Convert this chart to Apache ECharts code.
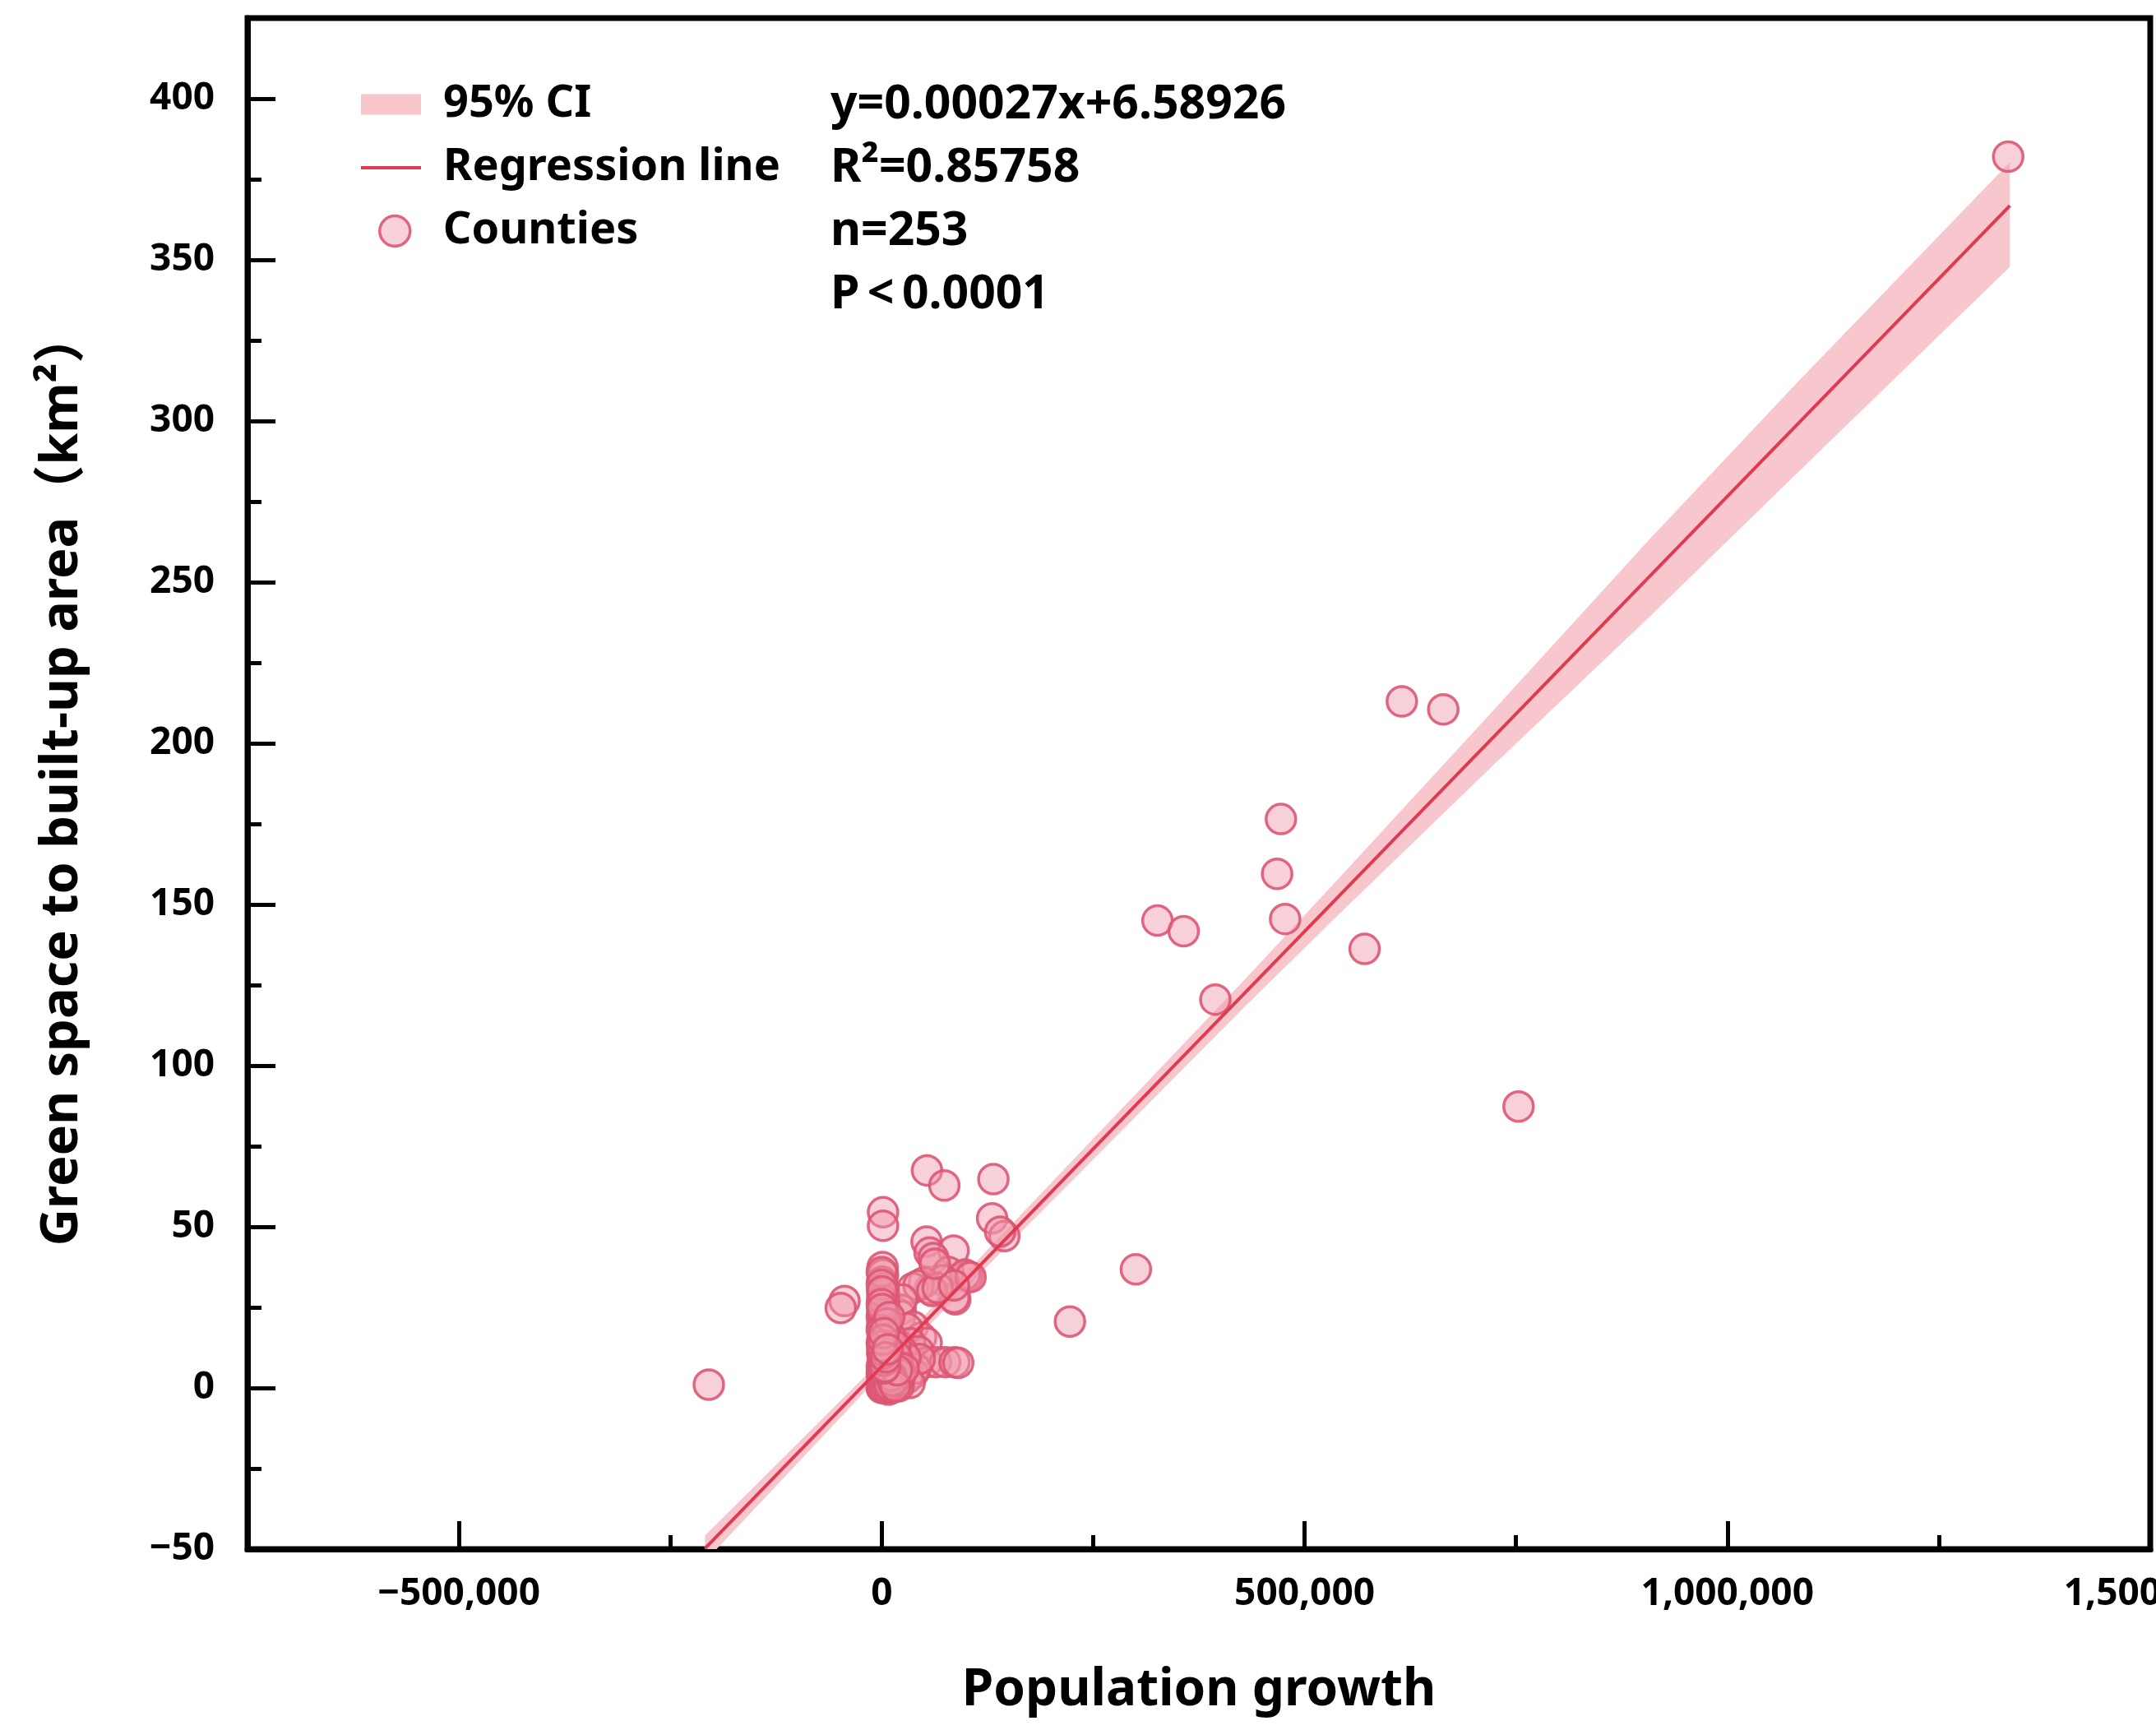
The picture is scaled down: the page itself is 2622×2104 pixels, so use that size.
<!DOCTYPE html>
<html>
<head>
<meta charset="utf-8">
<script src="https://cdn.jsdelivr.net/npm/echarts@6/dist/echarts.min.js"></script>
<style>
  html, body { margin: 0; padding: 0; background: #fff; }
  #chart { width: 2622px; height: 2104px; }
</style>
</head>
<body>
<div id="chart"></div>
<script>
// ---------------- data ----------------
const xTitle = 'Population growth';
const yTitle = 'Green space to built-up area\uFF08km\u00B2\uFF09';

const xMajorTicks = [-500000, 0, 500000, 1000000, 1500000];
const xMinorTicks = [-250000, 250000, 750000, 1250000];
const yMajorTicks = [-50, 0, 50, 100, 150, 200, 250, 300, 350, 400];
const yMinorTicks = [-25, 25, 75, 125, 175, 225, 275, 325, 375];

const legendNames = ['95% CI', 'Regression line', 'Counties'];
const statsLines = ['y=0.00027x+6.58926', 'R\u00B2=0.85758', 'n=253', 'P\u2009<\u20090.0001'];

// regression line end points (population growth, km²)
const regX = [-209000, 1334000];
const regY = [-49.8, 366.8];

// 95% confidence band read at several x positions
const ciX     = [-209000, 0,   100000, 250000, 430000, 540000, 725000, 908000, 1080000, 1334000];
const ciUpper = [-45.8,   8.8, 36.0,   77.3,   126.9,  158.0,  210.7,  263.3,  311.2,   380.3];
const ciLower = [-53.8,   4.4, 31.2,   70.9,   118.5,  146.8,  193.7,  239.3,  283.2,   347.8];

// counties: [population growth, green space to built-up area]
const outlierCounties = [
  [1332000, 382.0], [615000, 213.0], [664000, 210.5], [472000, 176.5], [467500, 159.5],
  [477000, 145.5], [326000, 145.0], [357000, 141.7], [571000, 136.2], [394500, 120.5],
  [753000, 87.3], [300500, 36.8], [222500, 20.6], [-204500, 1.0]
];
const midCounties = [
  [53500, 67.5], [74000, 62.8], [132000, 64.8], [130500, 52.6], [145000, 47.1],
  [1500, 54.5], [1500, 50.3], [53000, 45.4], [56500, 42.0], [85000, 42.6],
  [61000, 40.3], [101500, 34.6], [79000, 36.0], [98500, 35.2], [-44000, 27.0],
  [-48500, 24.8], [87000, 27.5], [85500, 28.0], [73000, 33.4], [56800, 30.8],
  [49900, 32.7], [36900, 31.0], [43400, 31.8], [59600, 30.1], [66100, 31.0],
  [22300, 24.3], [22300, 22.4], [24000, 27.5], [36900, 19.1], [46600, 15.6],
  [53100, 14.0], [30000, 18.5], [20700, 13.0], [33700, 13.9], [43400, 11.4],
  [24000, 11.4], [105000, 34.4], [85500, 31.8], [62800, 38.5], [140000, 48.5]
];
const rowCounties = [
  [53100, 8.0], [64000, 8.0], [75000, 8.0], [86000, 8.0], [90400, 7.8],
  [24000, 7.1], [17500, 2.9], [7800, -0.5], [36900, 4.6], [30000, 3.0],
  [40000, 6.0], [45000, 9.0], [28000, 9.5], [33000, 1.5], [12000, 0.0],
  [20000, 0.5], [15000, 5.0], [10000, 3.5], [5000, 1.0]
];
const columnCounties = [
  [1000, 37.5], [1500, 35.2], [500, 33.0], [2000, 31.0], [1000, 29.3],
  [500, 27.5], [2500, 25.5], [1000, 23.5], [0, 22.0], [1500, 20.5],
  [500, 19.0], [2000, 17.5], [1000, 15.6], [0, 14.0], [1500, 12.5],
  [500, 11.0], [2000, 9.5], [1000, 8.0], [0, 6.5], [1500, 5.0],
  [500, 3.5], [2000, 2.0], [1000, 1.0], [0, 0.2], [3000, 0.0],
  [2500, 4.0], [3500, 7.0], [3000, 10.0], [2500, 13.0], [3500, 16.0],
  [3000, 19.0], [2500, 21.5], [3500, 24.0], [3000, 27.0],
  [0, 36.0], [0, 32.0], [500, 30.0], [0, 26.0], [500, 24.5], [0, 18.0]
];
const blobCounties = [
  [4000, 0.5], [6000, 1.5], [8000, 0.5], [10000, 2.0], [12000, 1.5],
  [14000, 3.0], [5000, 3.0], [7000, 5.0], [9000, 4.0], [11000, 6.0],
  [13000, 5.0], [15000, 7.5], [17000, 3.5], [19000, 2.0], [6000, 8.0],
  [8000, 10.0], [4000, 12.0], [10000, 12.5], [12000, 9.0], [14000, 11.0],
  [5000, 15.0], [8000, 17.0], [11000, 15.5], [16000, 13.0], [18000, 9.5],
  [20000, 6.5], [22000, 4.0], [26000, 6.0], [6000, 20.0], [9000, 22.0],
  [0, 0.0], [500, 0.5], [1000, 1.5], [1500, 2.5], [2000, 3.5],
  [0, 4.5], [500, 5.5], [1000, 6.5], [2000, 0.8], [3000, 1.8],
  [4000, 2.8], [5000, 4.2], [6000, 5.5], [7000, 2.2], [8000, 3.2],
  [9000, 0.8], [11000, 3.8], [13000, 2.2], [16000, 0.5], [18000, 5.5],
  [2000, 6.0], [3000, 8.5], [4000, 6.5], [1000, 10.5], [2500, 11.5],
  [500, 13.0], [1500, 15.0], [2500, 17.0], [4500, 9.5], [7000, 12.0]
];

// ---------------- styles ----------------
const FF = "'Noto Sans', 'Noto Sans CJK SC', sans-serif";
const lineColor = '#e13a50';
const bandColor = '#f8c6cd';
const dotFill = 'rgba(240,150,170,0.45)';
const dotBorder = 'rgba(221,86,116,0.9)';

function fmtNum(v) {
  const s = Math.abs(v).toLocaleString('en-US');
  return v < 0 ? '\u2212' + s : s;
}

const allCounties = [].concat(outlierCounties, midCounties, rowCounties, columnCounties, blobCounties);
const ciData = ciX.map((x, i) => [x, ciLower[i], ciUpper[i]]);

const chart = echarts.init(document.getElementById('chart'), null, { renderer: 'canvas' });

const labelStyle = { fontFamily: FF, fontWeight: 'bold', fontSize: 46, color: '#000', lineHeight: 46 };
const legendText = { fontFamily: FF, fontWeight: 'bold', fontSize: 54, color: '#000', lineHeight: 60 };

const option = {
  animation: false,
  backgroundColor: '#fff',
  title: {
    text: statsLines.join('\n'),
    left: 1010, top: 89, padding: 0,
    textStyle: { fontFamily: FF, fontWeight: 'bold', fontSize: 57, color: '#000', lineHeight: 77 }
  },
  legend: [
    {
      data: [{ name: legendNames[0], icon: 'rect', itemStyle: { color: bandColor } }],
      left: 439, top: 97, padding: 0, selectedMode: false,
      itemWidth: 73, itemHeight: 25,
      textStyle: Object.assign({}, legendText, { padding: [0, 0, 0, 22] })
    },
    {
      data: [{ name: legendNames[1], icon: 'rect', itemStyle: { color: lineColor } }],
      left: 439, top: 174, padding: 0, selectedMode: false,
      itemWidth: 73, itemHeight: 4,
      textStyle: Object.assign({}, legendText, { padding: [0, 0, 0, 22] })
    },
    {
      data: [{ name: legendNames[2], icon: 'circle',
               itemStyle: { color: dotFill, borderColor: dotBorder, borderWidth: 3.5 } }],
      left: 460, top: 251, padding: 0, selectedMode: false,
      itemWidth: 37, itemHeight: 37,
      textStyle: Object.assign({}, legendText, { padding: [0, 0, 0, 35] })
    }
  ],
  grid: {
    left: 301, right: 7, top: 22, bottom: 220,
    show: true, borderColor: '#000', borderWidth: 7, backgroundColor: 'transparent',
    containLabel: false, outerBoundsMode: 'none'
  },
  xAxis: [
    {
      type: 'value', min: -750000, max: 1500000, position: 'bottom',
      name: xTitle, nameLocation: 'middle', nameGap: 141, nameMoveOverlap: false,
      nameTextStyle: { fontFamily: FF, fontWeight: 'bold', fontSize: 62, color: '#000', lineHeight: 62 },
      axisLine: { show: true, onZero: false, lineStyle: { color: '#000', width: 7 } },
      axisTick: { show: true, inside: true, length: 34, customValues: xMajorTicks,
                  lineStyle: { color: '#000', width: 5 } },
      axisLabel: Object.assign({ show: true, margin: 32, customValues: xMajorTicks, formatter: fmtNum }, labelStyle),
      splitLine: { show: false }, minorTick: { show: false }
    },
    {
      type: 'value', min: -750000, max: 1500000, position: 'bottom',
      axisLine: { show: false, onZero: false },
      axisTick: { show: true, inside: true, length: 17, customValues: xMinorTicks,
                  lineStyle: { color: '#000', width: 5 } },
      axisLabel: { show: false }, splitLine: { show: false }
    }
  ],
  yAxis: [
    {
      type: 'value', min: -50, max: 425, position: 'left',
      name: yTitle, nameLocation: 'middle', nameGap: 193, nameMoveOverlap: false,
      nameTextStyle: { fontFamily: FF, fontWeight: 'bold', fontSize: 63, color: '#000', lineHeight: 63,
                       padding: [0, 0, 0, 12] },
      axisLine: { show: true, onZero: false, lineStyle: { color: '#000', width: 7 } },
      axisTick: { show: true, inside: true, length: 34, customValues: yMajorTicks,
                  lineStyle: { color: '#000', width: 5 } },
      axisLabel: Object.assign({ show: true, margin: 40, customValues: yMajorTicks, formatter: fmtNum }, labelStyle),
      splitLine: { show: false }, minorTick: { show: false }
    },
    {
      type: 'value', min: -50, max: 425, position: 'left',
      axisLine: { show: false, onZero: false },
      axisTick: { show: true, inside: true, length: 17, customValues: yMinorTicks,
                  lineStyle: { color: '#000', width: 5 } },
      axisLabel: { show: false }, splitLine: { show: false }
    }
  ],
  series: [
    {
      name: legendNames[0], type: 'custom', xAxisIndex: 0, yAxisIndex: 0,
      clip: true, z: 1, silent: true,
      data: ciData,
      encode: { x: 0, y: [1, 2] },
      renderItem: function (params, api) {
        if (params.dataIndex !== 0) return;
        const pts = [];
        for (let i = 0; i < ciData.length; i++) pts.push(api.coord([ciData[i][0], ciData[i][2]]));
        for (let i = ciData.length - 1; i >= 0; i--) pts.push(api.coord([ciData[i][0], ciData[i][1]]));
        return { type: 'polygon', shape: { points: pts }, style: { fill: bandColor } };
      }
    },
    {
      name: legendNames[2], type: 'scatter', xAxisIndex: 0, yAxisIndex: 0, z: 3,
      symbol: 'circle', symbolSize: 36,
      itemStyle: { color: dotFill, borderColor: dotBorder, borderWidth: 3.5, opacity: 1 },
      emphasis: { disabled: true },
      data: allCounties
    },
    {
      name: legendNames[1], type: 'line', xAxisIndex: 0, yAxisIndex: 0, z: 4,
      symbol: 'none', showSymbol: false, clip: true,
      lineStyle: { color: lineColor, width: 4 },
      emphasis: { disabled: true },
      data: regX.map((x, i) => [x, regY[i]])
    }
  ]
};
chart.setOption(option);
</script>
</body>
</html>
